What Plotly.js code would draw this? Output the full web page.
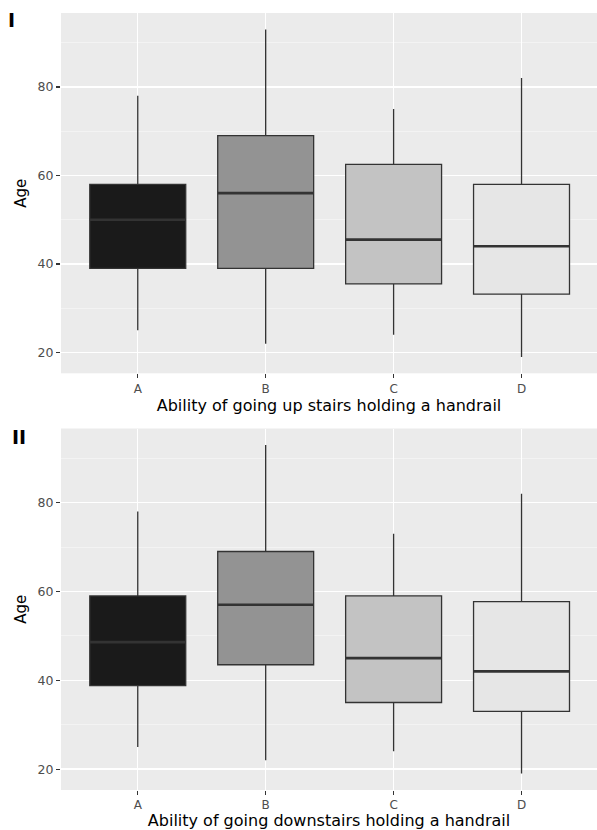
<!DOCTYPE html>
<html>
<head>
<meta charset="utf-8">
<script src="https://cdn.plot.ly/plotly-3.0.1.min.js"></script>
<style>html,body{margin:0;padding:0;background:#fff;}#chart{width:597px;height:830px;}</style>
</head>
<body>
<div id="chart"></div>
<script>
// Data
const categories = ["A", "B", "C", "D"];
const fills = ["#1a1a1a", "#939393", "#c3c3c3", "#e6e6e6"];

// Panel I: going up stairs
const upLower  = [25, 22, 24, 19];
const upQ1     = [39, 39, 35.5, 33.2];
const upMedian = [50, 56, 45.5, 44];
const upQ3     = [58, 69, 62.5, 58];
const upUpper  = [78, 93, 75, 82];

// Panel II: going downstairs
const downLower  = [25, 22, 24, 19];
const downQ1     = [38.8, 43.5, 35, 33];
const downMedian = [48.6, 57, 45, 42];
const downQ3     = [59, 69, 59, 57.7];
const downUpper  = [78, 93, 73, 82];

const yTicks = [20, 40, 60, 80];
const xTitles = ["Ability of going up stairs holding a handrail", "Ability of going downstairs holding a handrail"];
const panelLabels = ["I", "II"];

const FONT = "DejaVu Sans, Liberation Sans, Arial, sans-serif";
const BOXW = 0.75;

const traces = [];
const shapes = [];
function addPanel(lower, q1, med, q3, upper, xa, ya) {
  categories.forEach((c, i) => {
    traces.push({
      type: "box",
      x: [c], q1: [q1[i]], median: [med[i]], q3: [q3[i]],
      lowerfence: [lower[i]], upperfence: [upper[i]],
      xaxis: xa, yaxis: ya,
      width: BOXW, whiskerwidth: 0,
      fillcolor: fills[i],
      line: { color: "#333333", width: 1.3 },
      hoverinfo: "skip", showlegend: false
    });
    shapes.push({
      type: "line", xref: xa, yref: ya,
      x0: i - BOXW / 2, x1: i + BOXW / 2, y0: med[i], y1: med[i],
      line: { color: "#333333", width: 2.6 }, layer: "above"
    });
  });
}
addPanel(upLower, upQ1, upMedian, upQ3, upUpper, "x", "y");
addPanel(downLower, downQ1, downMedian, downQ3, downUpper, "x2", "y2");

const W = 597, H = 830;
function xaxisDef(title, anchor) {
  return {
    type: "category", categoryarray: categories, categoryorder: "array",
    domain: [61 / W, 1], range: [-0.6, 3.59], anchor: anchor,
    showgrid: true, gridcolor: "#ffffff", gridwidth: 1.3,
    zeroline: false, showline: false,
    ticks: "outside", ticklen: 4, tickwidth: 1.2, tickcolor: "#333333",
    tickfont: { family: FONT, size: 12, color: "#4d4d4d" },
    title: { text: title, font: { family: FONT, size: 16, color: "#000000" }, standoff: 3 },
    fixedrange: true
  };
}
function yaxisDef(top, bottom, anchor) {
  return {
    domain: [1 - bottom / H, 1 - top / H], range: [15.3, 96.7], anchor: anchor,
    tickvals: yTicks, ticktext: yTicks.map(String),
    showgrid: true, gridcolor: "#ffffff", gridwidth: 1.3,
    minor: { tickvals: [30, 50, 70, 90], showgrid: true, gridcolor: "#f6f6f6", gridwidth: 0.7, ticks: "" },
    zeroline: false, showline: false,
    ticks: "outside", ticklen: 4, tickwidth: 1.2, tickcolor: "#333333",
    tickfont: { family: FONT, size: 12.5, color: "#4d4d4d" },
    title: { text: "Age", font: { family: FONT, size: 15, color: "#000000" }, standoff: 7 },
    fixedrange: true
  };
}

const layout = {
  width: W, height: H,
  margin: { l: 0, r: 0, t: 0, b: 0 },
  paper_bgcolor: "#ffffff", plot_bgcolor: "#ebebeb",
  font: { family: FONT },
  boxmode: "overlay",
  xaxis: xaxisDef(xTitles[0], "y"),
  yaxis: yaxisDef(13, 373.3, "x"),
  xaxis2: xaxisDef(xTitles[1], "y2"),
  yaxis2: yaxisDef(428.5, 790, "x2"),
  shapes: shapes,
  annotations: [
    { text: "<b>" + panelLabels[0] + "</b>", xref: "paper", yref: "paper", x: 6 / W, y: 1 - 20 / H, xanchor: "left", yanchor: "middle", showarrow: false, font: { family: FONT, size: 19, color: "#000" } },
    { text: "<b>" + panelLabels[1] + "</b>", xref: "paper", yref: "paper", x: 10 / W, y: 1 - 437 / H, xanchor: "left", yanchor: "middle", showarrow: false, font: { family: FONT, size: 19, color: "#000" } }
  ]
};

Plotly.newPlot("chart", traces, layout, { staticPlot: true, displayModeBar: false });
</script>
</body>
</html>
